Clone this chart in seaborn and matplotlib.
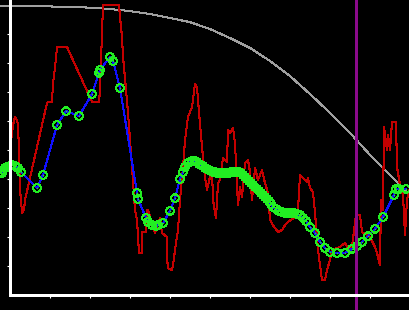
import matplotlib
matplotlib.use("Agg")
import matplotlib.pyplot as plt
import seaborn as sns
import pandas as pd

# ---- data (x: 0..100, y: tick spacing = 1) ----
grey_x = [-2.5, 0, 5, 10, 15, 20, 25, 30, 35, 40, 45, 50, 55, 60, 65, 70, 75, 80, 85, 90, 95, 100]
grey_y = [9.97, 9.97, 9.97, 9.95, 9.93, 9.91, 9.86, 9.79, 9.69, 9.55, 9.41, 9.17, 8.86, 8.52,
          8.07, 7.55, 6.93, 6.28, 5.59, 4.83, 4.14, 3.45]

red_x = [0.0, 0.75, 1.25, 1.75, 2.0, 2.25, 2.5, 2.75, 3.0, 3.5, 3.75, 9.25, 9.5, 10.5, 10.75,
         11.25, 11.75, 14.25, 20.5, 22.25, 22.5, 23.25, 27.25, 27.5, 28.0, 28.25, 28.75, 29.5,
         30.5, 31.25, 31.75, 32.0, 32.25, 33.0, 33.1, 34.0, 34.25, 34.5, 36.25, 37.5, 38.0,
         39.25, 39.4, 40.5, 40.75, 41.5, 42.0, 42.5, 43.25, 43.75, 44.5, 45.5, 46.25, 46.75,
         47.0, 47.5, 48.0, 48.75, 49.25, 50.0, 50.5, 50.75, 51.5, 51.75, 52.0, 52.5, 53.25,
         54.25, 54.5, 55.0, 55.75, 56.25, 57.0, 57.5, 58.0, 58.75, 59.5, 60.0, 60.5, 61.25,
         62.0, 63.0, 63.75, 64.5, 65.0, 65.75, 67.0, 68.0, 68.75, 69.5, 71.25, 72.0, 72.5,
         73.25, 74.25, 74.5, 75.0, 75.75, 76.25, 77.0, 78.0, 78.75, 79.25, 80.0, 80.5, 82.5,
         83.75, 84.5, 85.5, 86.5, 87.5, 88.0, 89.25, 90.0, 91.25, 91.75, 92.5, 92.75, 93.25,
         93.5, 94.25, 94.5, 95.0, 95.5, 96.5, 96.75, 97.5, 98.25, 98.75, 99.25, 99.75]
red_y = [5.0, 5.86, 6.14, 6.03, 5.86, 5.0, 3.62, 3.28, 2.83, 2.93, 3.28, 6.62, 6.66, 6.66, 7.31,
         7.83, 8.55, 8.55, 6.66, 6.66, 7.07, 10.0, 10.0, 9.59, 8.90, 8.21, 7.48, 6.28,
         4.41, 2.93, 2.59, 2.0, 1.45, 1.45, 2.17, 2.17, 2.93, 2.93, 2.14, 2.66, 2.14,
         2.0, 0.93, 0.86, 1.03, 1.79, 2.24, 3.28, 4.41, 5.34, 6.14, 6.48, 7.28, 7.17,
         6.72, 5.93, 5.10, 4.07, 3.62, 4.07, 4.31, 3.28, 2.66, 3.28, 3.86, 3.97, 4.72,
         4.59, 5.69, 5.59, 5.76, 5.24, 3.10, 3.72, 3.38, 4.55, 4.66, 4.24, 3.28, 4.38,
         3.97, 4.31, 3.86, 3.52, 2.59, 2.41, 2.17, 2.24, 2.41, 2.52, 2.69, 2.93, 4.14,
         4.03, 3.90, 4.03, 3.69, 3.55, 2.83, 1.55, 0.52, 0.52, 0.86, 1.21, 1.55, 1.66,
         1.79, 1.62, 1.66, 2.76, 2.76, 2.17, 2.07, 2.0, 1.66, 1.45, 1.03, 3.28, 2.93,
         5.79, 5.0, 5.52, 5.0, 5.97, 5.97, 4.41, 3.79, 3.45, 2.07, 3.28, 3.62]

pts_x = [-2.0, -1.75, -1.25, -0.75, 0.0, 0.5, 1.25, 2.0, 2.75, 6.75, 8.25, 11.75, 14.0, 17.25,
         20.5, 22.25, 22.5, 25.0, 25.75, 27.5, 31.75, 32.0, 34.0, 34.5, 35.5, 36.5, 37.0,
         38.25, 40.0, 41.25, 42.5, 43.25, 43.75, 44.5, 45.5,
         46.25, 46.75, 47.25, 47.75, 48.25, 48.75, 49.25, 49.75, 50.25, 50.75, 51.25, 51.75,
         52.25, 52.75, 53.25, 53.75, 54.25, 54.75, 55.25, 55.75, 56.25, 56.75, 57.25, 57.75,
         58.25, 58.75, 59.25, 59.75, 60.25, 60.75, 61.25, 61.75, 62.25, 62.75, 63.25, 63.75,
         64.25, 64.75, 65.25, 65.75, 66.5, 67.25, 68.0, 68.75, 69.5, 70.25, 71.0, 71.75,
         72.5, 73.25, 74.0, 75.0, 76.25, 77.5, 78.75, 80.0, 81.75, 83.75, 85.5, 86.75,
         88.0, 89.5, 91.25, 93.25, 96.0, 96.5, 97.25, 99.0]
pts_y = [4.21, 4.31, 4.38, 4.41, 4.45, 4.48, 4.45, 4.38, 4.24, 3.69, 4.14, 5.86, 6.34, 6.17,
         6.93, 7.66, 7.76, 8.21, 8.07, 7.14, 3.52, 3.31, 2.66, 2.52, 2.41, 2.38, 2.41,
         2.48, 2.90, 3.34, 4.0, 4.24, 4.41, 4.55, 4.62,
         4.62, 4.59, 4.52, 4.48, 4.45, 4.38, 4.34, 4.31, 4.28, 4.24, 4.24, 4.21,
         4.21, 4.21, 4.21, 4.21, 4.21, 4.21, 4.24, 4.24, 4.24, 4.24, 4.24, 4.21,
         4.14, 4.07, 4.0, 3.93, 3.86, 3.79, 3.72, 3.66, 3.59, 3.52, 3.45, 3.38,
         3.31, 3.24, 3.14, 3.03, 2.97, 2.90, 2.86, 2.83, 2.83, 2.83, 2.83, 2.79,
         2.76, 2.66, 2.55, 2.34, 2.14, 1.83, 1.62, 1.48, 1.45, 1.45, 1.59, 1.69,
         1.83, 2.03, 2.28, 2.69, 3.45, 3.66, 3.66, 3.66]

vline_x = 86.5
x_ticks = [10, 20, 30, 40, 50, 60, 70, 80, 90]
y_ticks = [1, 2, 3, 4, 5, 6, 7, 8, 9]

sns.set_theme(style="dark")
plt.rcParams.update({
    "lines.antialiased": False,
    "patch.antialiased": False,
    "font.family": ["DejaVu Sans"],
})

fig = plt.figure(figsize=(4.1, 3.1), dpi=100, facecolor="black")
ax = fig.add_axes([0, 0, 1, 1])
ax.set_facecolor("black")

grey_df = pd.DataFrame({"x": grey_x, "y": grey_y})
red_df = pd.DataFrame({"x": red_x, "y": red_y})
pts_df = pd.DataFrame({"x": pts_x, "y": pts_y})

lw = 0.75
sns.lineplot(data=grey_df, x="x", y="y", sort=False, estimator=None, color="#a0a0a0",
             linewidth=lw, ax=ax)
sns.lineplot(data=red_df, x="x", y="y", sort=False, estimator=None, color="#c40000",
             linewidth=lw, ax=ax)
sns.lineplot(data=pts_df, x="x", y="y", sort=False, estimator=None, color="#1010ff",
             linewidth=lw, ax=ax)
sns.scatterplot(data=pts_df, x="x", y="y", marker="o", s=30, facecolors="none",
                edgecolors="#22ee22", linewidths=0.75, ax=ax, zorder=4)
sns.scatterplot(data=pts_df, x="x", y="y", marker="o", s=1.2, color="#22ee22",
                linewidth=0, ax=ax, zorder=4)
ax.axvline(vline_x, color="#8b0a8b", linewidth=1.0, zorder=5)

ax.set_xlim(-2.5, 100)
ax.set_ylim(-15 / 29, 295 / 29)
ax.set_xticks(x_ticks)
ax.set_yticks(y_ticks)
ax.set_xticklabels([])
ax.set_yticklabels([])
ax.set_xlabel("")
ax.set_ylabel("")
ax.grid(False)

for side in ("top", "right"):
    ax.spines[side].set_visible(False)
for side in ("left", "bottom"):
    ax.spines[side].set_visible(True)
    ax.spines[side].set_color("white")
    ax.spines[side].set_linewidth(0.9)
    ax.spines[side].set_position(("data", 0))
    ax.spines[side].set_zorder(6)
ax.spines["left"].set_bounds(0, 295 / 29)
ax.spines["bottom"].set_bounds(0, 100)
ax.tick_params(axis="both", direction="out", length=2.3, width=0.8, color="white",
               bottom=True, left=True)

fig.savefig("out.png", dpi=100, facecolor="black")
